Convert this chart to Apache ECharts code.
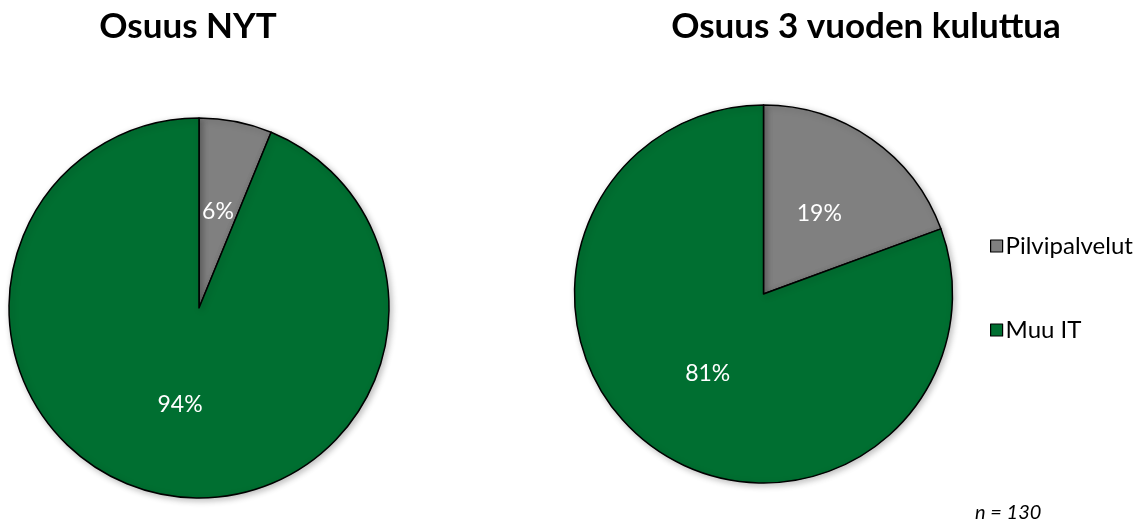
<!DOCTYPE html>
<html>
<head>
<meta charset="utf-8">
<style>
html,body{margin:0;padding:0;background:#fff;}
#chart{width:1140px;height:526px;}
</style>
<script src="https://cdn.jsdelivr.net/npm/echarts@6/dist/echarts.min.js"></script>
</head>
<body>
<div id="chart"></div>
<script>
var categories = ['Pilvipalvelut', 'Muu IT'];
var titles = ['Osuus NYT', 'Osuus 3 vuoden kuluttua'];
var valuesNow = [6.2, 93.8];
var valuesLater = [19.4, 80.6];
var colors = ['#808080', '#006F31'];
var noteText = 'n = 130';

var FONT = 'Lato, "Open Sans", sans-serif';

function mk(vals) {
  return categories.map(function (c, i) {
    return { name: c, value: vals[i], itemStyle: { color: colors[i] } };
  });
}

var chart = echarts.init(document.getElementById('chart'));
var common = {
  type: 'pie',
  startAngle: 90,
  clockwise: true,
  avoidLabelOverlap: false,
  animation: false,
  label: {
    show: true,
    position: 'inside',
    color: '#fff',
    fontFamily: FONT,
    fontSize: 23,
    formatter: function (p) { return Math.round(p.value) + '%'; }
  },
  labelLine: { show: false },
  itemStyle: { borderColor: '#000', borderWidth: 1.5, shadowBlur: 6, shadowColor: 'rgba(0,0,0,0.25)', shadowOffsetX: 2, shadowOffsetY: 2 },
  emphasis: { disabled: true }
};

chart.setOption({
  backgroundColor: '#fff',
  animation: false,
  title: [
    { text: titles[0], left: 183, top: 4, textAlign: 'center', textStyle: { fontFamily: FONT, fontWeight: 'bold', fontSize: 35, color: '#000' } },
    { text: titles[1], left: 861, top: 4, textAlign: 'center', textStyle: { fontFamily: FONT, fontWeight: 'bold', fontSize: 35, color: '#000' } }
  ],
  legend: {
    orient: 'vertical',
    left: 985,
    top: 229,
    itemWidth: 12,
    itemHeight: 12,
    itemGap: 60,
    icon: 'rect',
    data: categories,
    itemStyle: { borderColor: '#000', borderWidth: 1.2 },
    textStyle: { fontFamily: FONT, fontSize: 24, color: '#000', padding: [0, 0, 0, -2] }
  },
  graphic: [
    { type: 'text', left: 975, top: 503, style: { text: noteText, fontFamily: FONT, fontStyle: 'italic', fontSize: 20, fill: '#000' } }
  ],
  series: [
    Object.assign({}, common, { name: titles[0], center: [199, 308], radius: 190, data: mk(valuesNow) }),
    Object.assign({}, common, { name: titles[1], center: [763.5, 294], radius: 189, data: mk(valuesLater) })
  ]
});
</script>
</body>
</html>
